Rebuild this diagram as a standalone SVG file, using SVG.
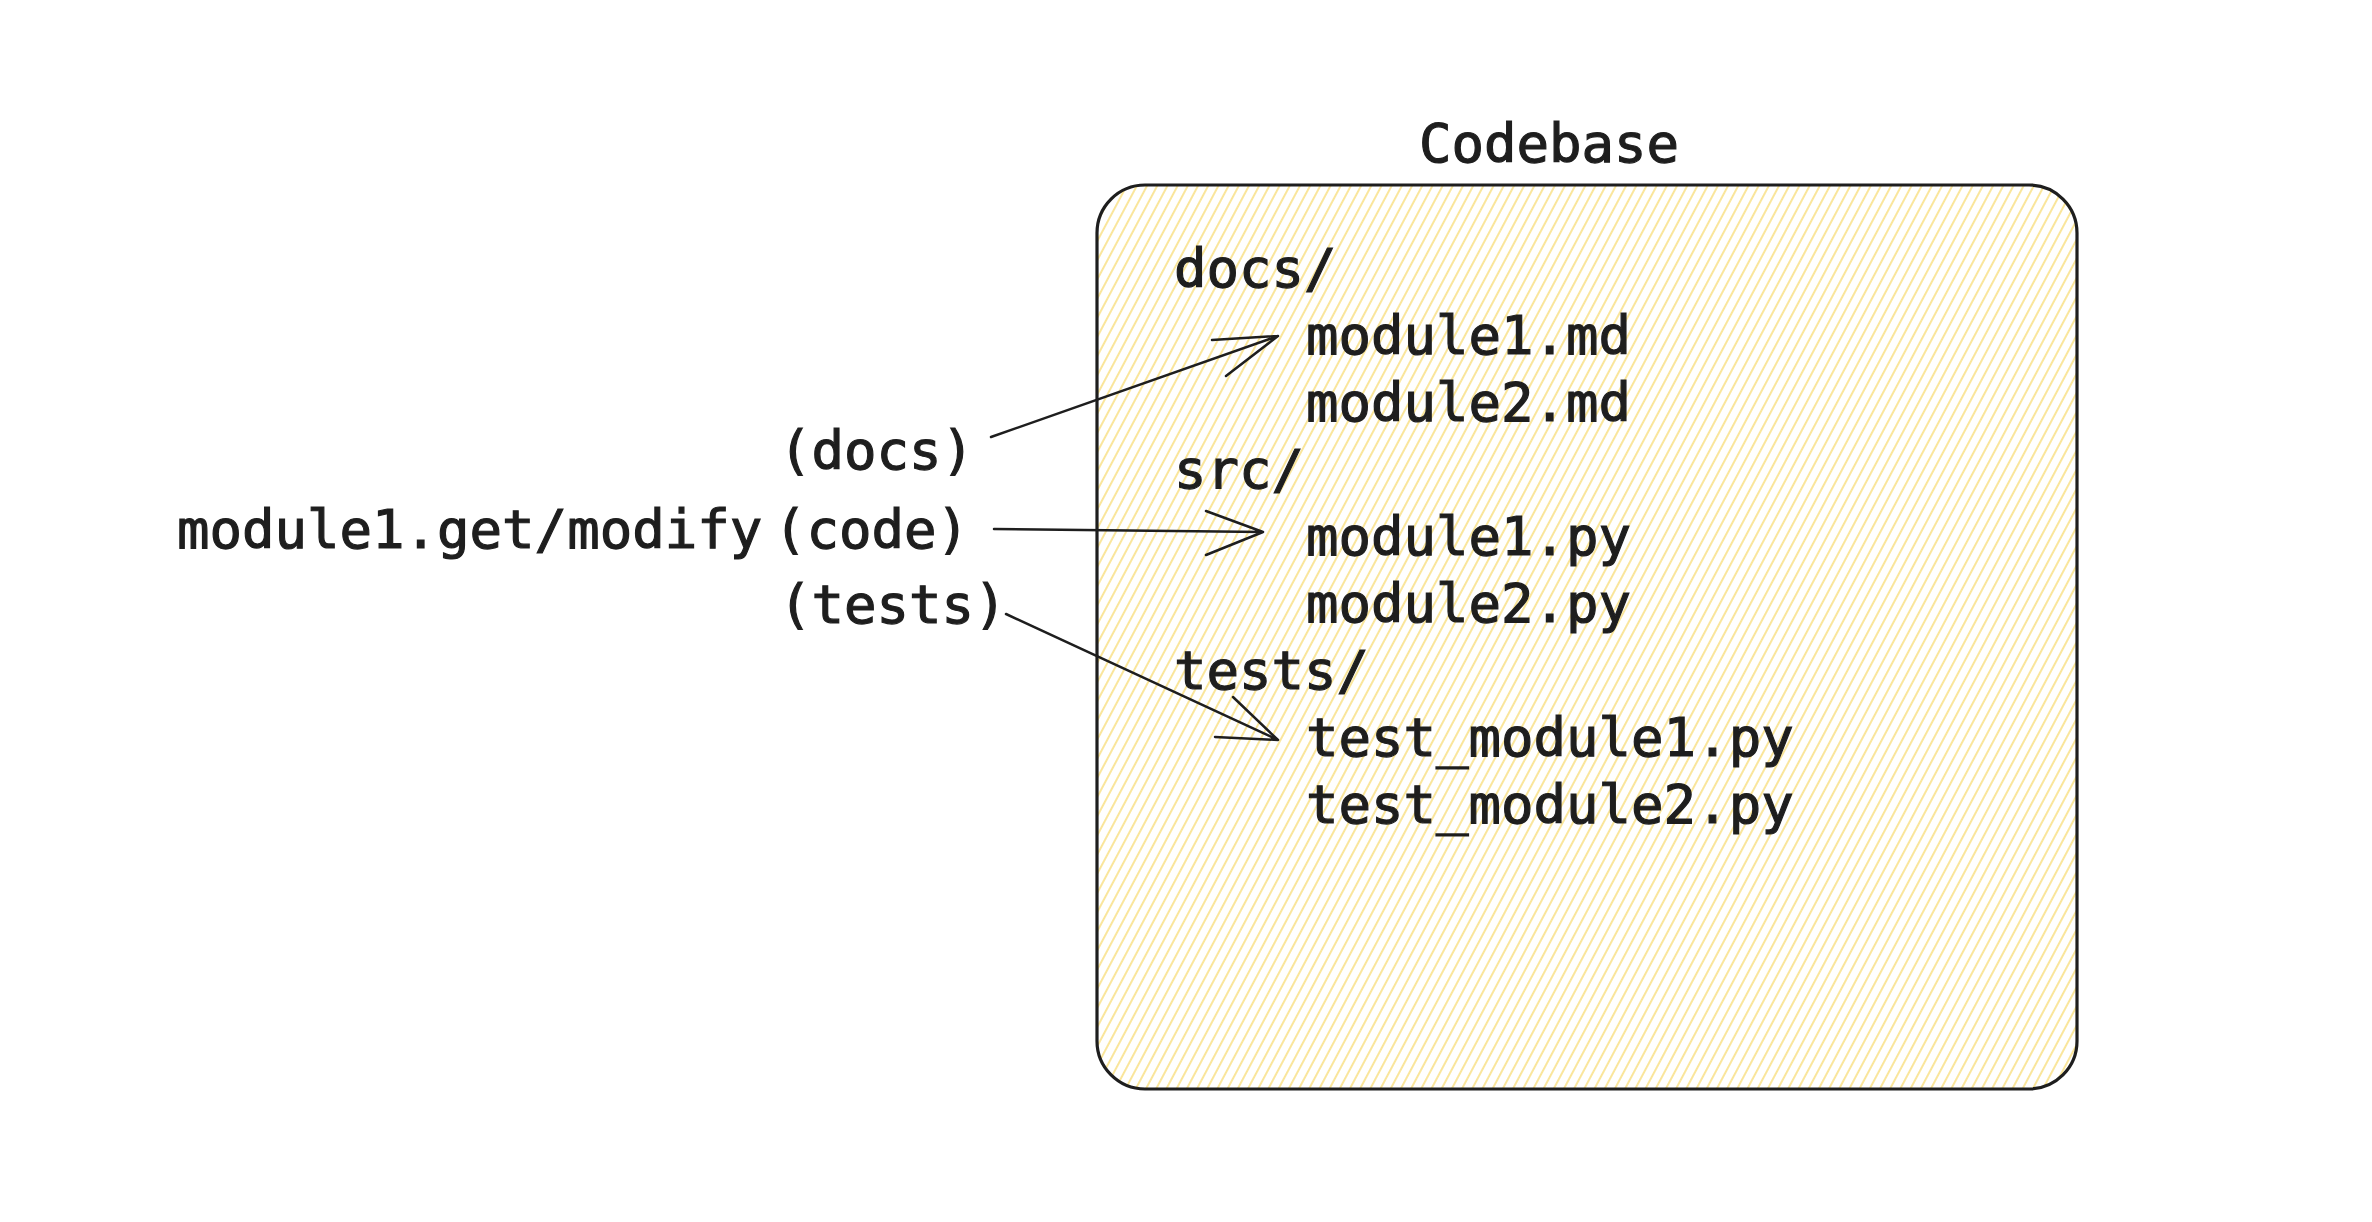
<svg xmlns="http://www.w3.org/2000/svg" width="2372" height="1222" viewBox="0 0 2372 1222">
<defs>
<pattern id="hatch" width="9" height="9" patternUnits="userSpaceOnUse" patternTransform="rotate(28)">
<line x1="2" y1="0" x2="2" y2="9" stroke="#f5d04a" stroke-width="1.3" stroke-opacity="0.85"/>
</pattern>
</defs>
<style>
text{font-family:"DejaVu Sans Mono","Liberation Mono",monospace;font-size:54px;fill:#1e1e1e;stroke:#1e1e1e;stroke-width:1.2px;}
.ln{fill:none;stroke:#1e1e1e;stroke-width:2.5;stroke-linecap:round;stroke-linejoin:round;}
</style>
<rect width="2372" height="1222" fill="#ffffff"/>
<g id="codebase">
<rect x="1097" y="185" width="980" height="904" rx="48" ry="48" fill="#ffffff"/>
<rect x="1097" y="185" width="980" height="904" rx="48" ry="48" fill="url(#hatch)" stroke="#1e1e1e" stroke-width="3.2"/>
<text x="1419" y="162">Codebase</text>
</g>
<g id="tree">
<text x="1174" y="287">docs/</text>
<text x="1306" y="354">module1.md</text>
<text x="1306" y="421">module2.md</text>
<text x="1174" y="488">src/</text>
<text x="1306" y="555">module1.py</text>
<text x="1306" y="622">module2.py</text>
<text x="1174" y="689">tests/</text>
<text x="1306" y="756">test_module1.py</text>
<text x="1306" y="823">test_module2.py</text>
</g>
<g id="labels">
<text x="779" y="469">(docs)</text>
<text x="177" y="548">module1.get/modify</text>
<text x="774" y="548">(code)</text>
<text x="779" y="623">(tests)</text>
</g>
<g id="connectors">
<path class="ln" d="M991 437 L1278 336 M1212 340 L1278 336 L1226 376"/>
<path class="ln" d="M994 529 L1263 532 M1206 511 L1263 532 L1206 555"/>
<path class="ln" d="M1006 614 L1278 740 M1233 697 L1278 740 L1215 737"/>
</g>
</svg>
